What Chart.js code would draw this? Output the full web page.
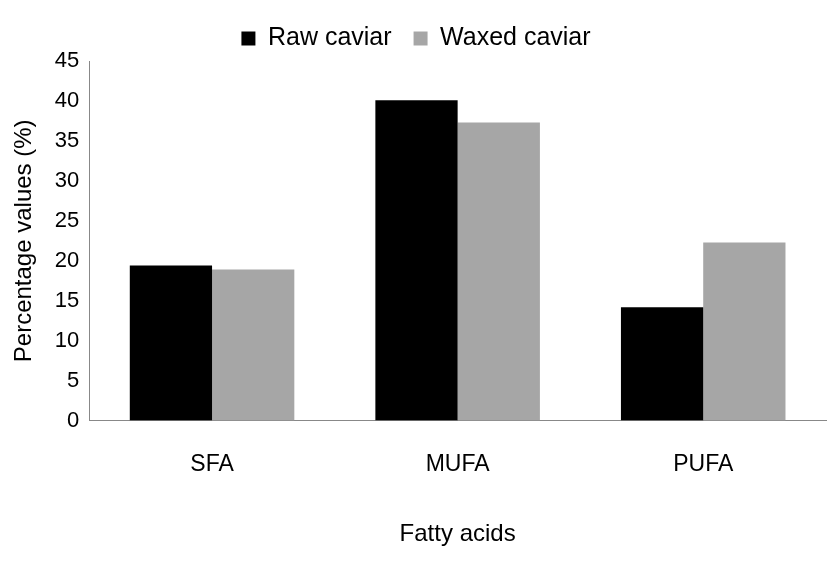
<!DOCTYPE html><html><head><script src="https://cdn.jsdelivr.net/npm/chart.js@4"></script>
<style>body{margin:0;background:#fff}#w{width:828px;height:567px}</style></head><body><div id="w"><canvas id="c"></canvas></div>
<script>
const categories=["SFA","MUFA","PUFA"];
const raw=[19.4,40.1,14.2];
const waxed=[18.9,37.3,22.3];
const yTicks=[0,5,10,15,20,25,30,35,40,45];
Chart.defaults.font.family="'Liberation Sans', Arial, sans-serif";
Chart.defaults.color="#000";
new Chart(document.getElementById('c'),{type:'bar',
data:{labels:categories,datasets:[
{label:'Raw caviar',data:raw,backgroundColor:'#000'},
{label:'Waxed caviar',data:waxed,backgroundColor:'#a6a6a6'}]},
options:{responsive:true,maintainAspectRatio:false,animation:false,
layout:{padding:{right:2,bottom:14,left:6,top:4}},
datasets:{bar:{categoryPercentage:0.67,barPercentage:1}},
plugins:{legend:{position:'top',labels:{boxWidth:14,boxHeight:14,padding:22,font:{size:25}}},tooltip:{enabled:false}},
scales:{
x:{grid:{display:false,drawTicks:false},border:{color:'#888'},ticks:{font:{size:23},padding:30},
 title:{display:true,text:'Fatty acids',font:{size:24},padding:{top:12}}},
y:{min:0,max:45,afterBuildTicks:a=>{a.ticks=yTicks.map(v=>({value:v}))},
 grid:{display:false,drawTicks:true,tickLength:6,tickColor:'#888'},border:{color:'#888'},
 ticks:{font:{size:22},padding:4},
 title:{display:true,text:'Percentage values (%)',font:{size:24},padding:{bottom:12}}}}}});
</script></body></html>
